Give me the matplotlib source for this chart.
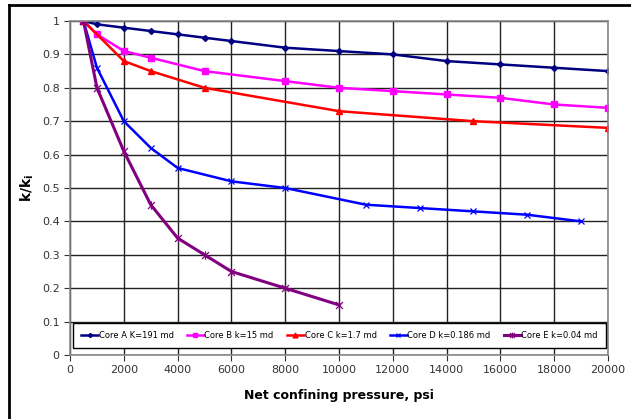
import numpy as np
import matplotlib.pyplot as plt
from matplotlib.path import Path
from matplotlib.lines import Line2D

# Data
p_a = [500, 1000, 2000, 3000, 4000, 5000, 6000, 8000, 10000, 12000, 14000, 16000, 18000, 20000]
k_a = [1.0, 0.99, 0.98, 0.97, 0.96, 0.95, 0.94, 0.92, 0.91, 0.90, 0.88, 0.87, 0.86, 0.85]

p_b = [500, 1000, 2000, 3000, 5000, 8000, 10000, 12000, 14000, 16000, 18000, 20000]
k_b = [1.0, 0.96, 0.91, 0.89, 0.85, 0.82, 0.80, 0.79, 0.78, 0.77, 0.75, 0.74]

p_c = [500, 2000, 3000, 5000, 10000, 15000, 20000]
k_c = [1.0, 0.88, 0.85, 0.80, 0.73, 0.70, 0.68]

p_d = [500, 1000, 2000, 3000, 4000, 6000, 8000, 11000, 13000, 15000, 17000, 19000]
k_d = [1.0, 0.86, 0.70, 0.62, 0.56, 0.52, 0.50, 0.45, 0.44, 0.43, 0.42, 0.40]

p_e = [500, 1000, 2000, 3000, 4000, 5000, 6000, 8000, 10000]
k_e = [1.0, 0.80, 0.61, 0.45, 0.35, 0.30, 0.25, 0.20, 0.15]

labels = ['Core A K=191 md', 'Core B k=15 md', 'Core C k=1.7 md',
          'Core D k=0.186 md', 'Core E k=0.04 md']

# asterisk marker (x with a vertical bar)
star = Path([(-1, -1), (1, 1), (-1, 1), (1, -1), (0, -1.2), (0, 1.2)],
            [Path.MOVETO, Path.LINETO, Path.MOVETO, Path.LINETO, Path.MOVETO, Path.LINETO])

fig = plt.figure(figsize=(6.31, 4.19), dpi=100)
ax = fig.add_axes([0.111, 0.1527, 0.8525, 0.7972])

ax.plot(p_a, k_a, color='#000080', lw=1.8, marker='D', ms=3, label=labels[0])
ax.plot(p_b, k_b, color='#ff00ff', lw=1.8, marker='s', ms=5, label=labels[1])
ax.plot(p_c, k_c, color='#ff0000', lw=1.8, marker='^', ms=5, label=labels[2])
ax.plot(p_d, k_d, color='#0000ff', lw=1.8, marker='x', ms=5, mew=0.9, label=labels[3])
ax.plot(p_e, k_e, color='#800080', lw=2.2, marker=star, ms=6, mew=0.9, label=labels[4])

ax.set_xlim(0, 20000)
ax.set_ylim(0, 1)
ax.set_xticks(np.arange(0, 20001, 2000))
ax.set_yticks(np.arange(0, 1.01, 0.1))
ax.set_yticklabels(['0', '0.1', '0.2', '0.3', '0.4', '0.5', '0.6', '0.7', '0.8', '0.9', '1'])
ax.tick_params(labelsize=8, labelcolor='#333333', colors='#333333', length=4, direction='out')
ax.grid(True, color='#222222', lw=1)
ax.set_axisbelow(True)
for s in ax.spines.values():
    s.set_color('#888888')
    s.set_linewidth(1.2)

ax.set_xlabel('Net confining pressure, psi', fontsize=9, fontweight='bold', labelpad=10)
ax.set_ylabel(r'$\mathbf{k/k_i}$', fontsize=10, labelpad=4)

leg = ax.legend(loc='lower left', bbox_to_anchor=(0.006, 0.021, 0.99, 0.078),
                mode='expand', ncol=5, fontsize=6, handlelength=2.0,
                handletextpad=0.1, columnspacing=0.6, borderaxespad=0,
                borderpad=0.95, markerscale=0.7, fancybox=False,
                framealpha=1, edgecolor='black')
leg.get_frame().set_linewidth(1)

# outer frame lines of the chart area
fig.add_artist(Line2D([9 / 631, 9 / 631], [0, 1 - 5 / 419], color='black', lw=2))
fig.add_artist(Line2D([9 / 631, 1], [1 - 5 / 419, 1 - 5 / 419], color='black', lw=2))

fig.savefig('out.png', dpi=100)
